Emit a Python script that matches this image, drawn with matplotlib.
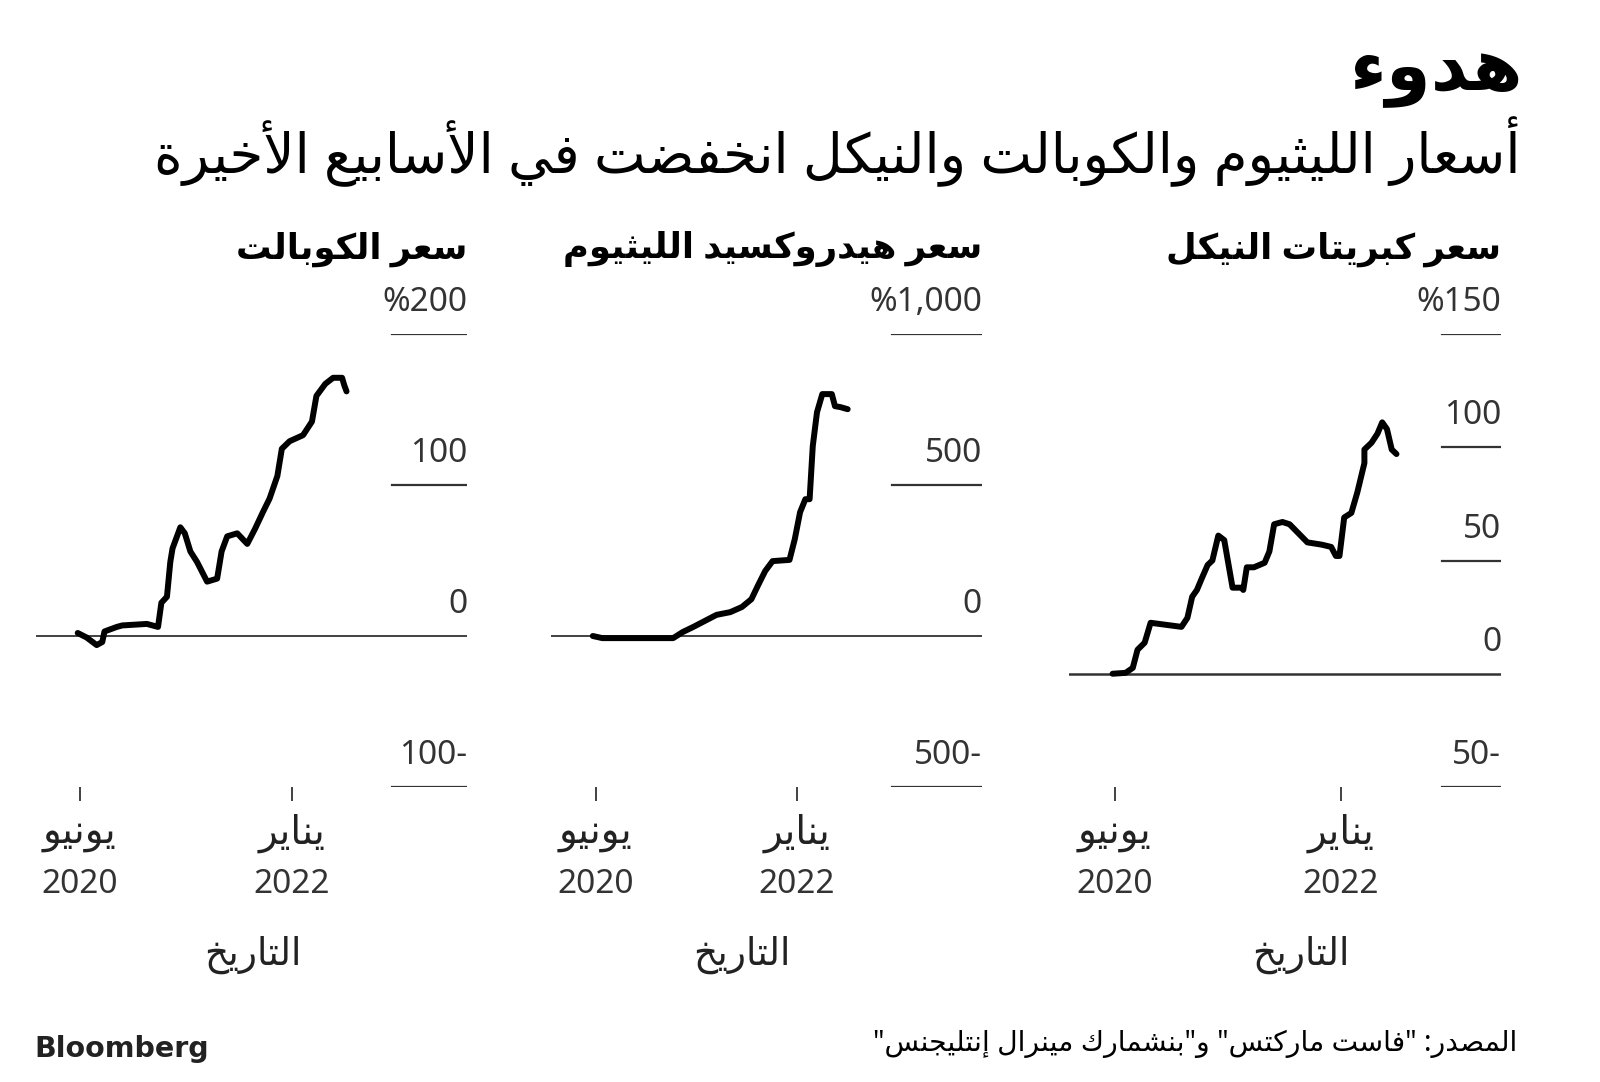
import numpy as np
import matplotlib
matplotlib.use('Agg')
import matplotlib.pyplot as plt
from matplotlib.transforms import offset_copy

plt.rcParams['font.family'] = ['Noto Sans', 'DejaVu Sans']

# x values: months since January 2020 (5 = June 2020, 24 = January 2022)
cobalt_month = [4.8, 5.6, 6.5, 7.0, 7.2, 8.3, 8.8, 11.0, 12.0, 12.3, 12.8, 13.1, 13.3,
                14.0, 14.4, 14.9, 15.5, 16.4, 17.3, 17.7, 18.2, 19.1, 20.0, 20.7, 21.4,
                22.0, 22.7, 23.1, 23.8, 25.0, 25.8, 26.2, 27.0, 27.7, 28.5, 28.7, 28.9]
cobalt_pct = [2, -1, -6, -4, 3, 6, 7, 8, 6, 22, 26, 49, 58,
              72, 68, 56, 49, 36, 38, 56, 66, 68, 61, 71, 82,
              91, 106, 124, 129, 133, 142, 159, 167, 171, 171, 166, 162]

lithium_month = [4.7, 5.6, 12.3, 13.2, 14.2, 15.3, 16.4, 17.7, 18.8, 19.7, 20.3, 21.0, 21.7,
                 23.3, 23.8, 24.3, 24.8, 25.2, 25.5, 25.9, 26.4, 27.3, 27.6, 28.1, 28.8]
lithium_pct = [0, -7, -7, 13, 30, 50, 70, 79, 96, 122, 166, 215, 248,
               252, 321, 410, 453, 453, 629, 741, 801, 801, 761, 758, 751]

nickel_month = [4.8, 5.9, 6.5, 6.9, 7.5, 8.0, 10.6, 11.1, 11.5, 11.9, 12.3, 12.8, 13.2, 13.7,
                14.2, 14.6, 14.9, 15.7, 15.8, 16.1, 16.7, 17.6, 18.0, 18.4, 19.1, 19.7, 21.2,
                22.4, 23.2, 23.6, 23.9, 24.3, 24.9, 25.4, 26.0, 26.0, 26.6, 27.1, 27.5, 27.9,
                28.3, 28.7]
nickel_pct = [0, 0.4, 2.6, 10.6, 13.7, 22.5, 20.7, 24.7, 34, 37, 42, 48, 50, 61,
              59, 47, 38, 38, 37, 47, 47, 49, 54, 66, 67, 66, 58,
              57, 56, 52, 52, 69, 71, 80, 93, 99, 102, 106, 111, 108,
              99, 97]

tick_months = [5, 24]
tick_names = ['يونيو', 'يناير']
tick_years = ['2020', '2022']

cobalt_grid = [200, 100, 0, -100]
cobalt_grid_labels = ['%200', '100', '0', '100-']
lithium_grid = [1000, 500, 0, -500]
lithium_grid_labels = ['%1,000', '500', '0', '500-']
nickel_grid = [150, 100, 50, 0, -50]
nickel_grid_labels = ['%150', '100', '50', '0', '50-']

title = 'هدوء'
subtitle = 'أسعار الليثيوم والكوبالت والنيكل انخفضت في الأسابيع الأخيرة'
panel_titles = ['سعر الكوبالت', 'سعر هيدروكسيد الليثيوم', 'سعر كبريتات النيكل']
xlabel = 'التاريخ'
source = 'المصدر: "فاست ماركتس" و"بنشمارك مينرال إنتليجنس"'


# --- minimal arabic shaping (matplotlib draws glyphs left to right, no joining) ---
AR_LETTERS = ('\u0621\u0622\u0623\u0624\u0625\u0626\u0627\u0628\u0629\u062a'
              '\u062b\u062c\u062d\u062e\u062f'
              '\u0630\u0631\u0632\u0633\u0634\u0635\u0636\u0637\u0638\u0639\u063a'
              '\u0641\u0642\u0643\u0644\u0645\u0646\u0647\u0648\u0649\u064a')
AR_NFORMS = [1, 2, 2, 2, 2, 4, 2, 4, 2, 4, 4, 4, 4, 4, 2,
             2, 2, 2, 4, 4, 4, 4, 4, 4, 4, 4,
             4, 4, 4, 4, 4, 4, 4, 2, 2, 4]
FORMS = {}
_base = 0xFE80
for _c, _n in zip(AR_LETTERS, AR_NFORMS):
    FORMS[_c] = (_base, _n)
    _base += _n
LAM_ALEF = {'\u0622': 0xFEF5, '\u0623': 0xFEF7, '\u0625': 0xFEF9, '\u0627': 0xFEFB}


def links_left(c):
    return c in FORMS and FORMS[c][1] == 4


def ar(text):
    out = []
    i = 0
    while i < len(text):
        c = text[i]
        if c not in FORMS:
            out.append(c)
            i += 1
            continue
        jp = i > 0 and links_left(text[i - 1])
        if c == '\u0644' and i + 1 < len(text) and text[i + 1] in LAM_ALEF:
            out.append(chr(LAM_ALEF[text[i + 1]] + (1 if jp else 0)))
            i += 2
            continue
        jn = links_left(c) and i + 1 < len(text) and text[i + 1] in FORMS
        base, n = FORMS[c]
        if n == 4:
            off = 3 if (jp and jn) else 1 if jp else 2 if jn else 0
        elif n == 2:
            off = 1 if jp else 0
        else:
            off = 0
        out.append(chr(base + off))
        i += 1
    return ''.join(out)[::-1]


W, H = 1600, 1082
fig = plt.figure(figsize=(16, 10.82), dpi=100)
TOP, BOTTOM = 334, 787
GREY = '#333333'


def yfrac(py):
    # figure pixel row -> axes fraction (all panels share the same vertical frame)
    return (BOTTOM - py) / (BOTTOM - TOP)


def panel(left, right, months, pct, ylim, xlim, grid, grid_labels, short_from, name, xlab_x, zero_lw):
    ax = fig.add_axes([left / W, 1 - BOTTOM / H, (right - left) / W, (BOTTOM - TOP) / H])
    ax.set_xlim(*xlim)
    ax.set_ylim(*ylim)
    for s in ax.spines.values():
        s.set_visible(False)
    ax.set_yticks([])
    ax.set_xticks(tick_months, labels=tick_years)
    ax.tick_params(axis='x', length=10, width=1.3, color=GREY, pad=48,
                   labelsize=24, labelcolor=GREY)
    xtr = ax.get_xaxis_transform()
    for m, nm in zip(tick_months, tick_names):
        ax.text(m, yfrac(833), ar(nm), transform=xtr, ha='center', va='center',
                fontsize=28, color='#222222')
    ytr = ax.get_yaxis_transform()
    lab_tr = offset_copy(ytr, fig=fig, y=23, units='dots')
    for v, t in zip(grid, grid_labels):
        if v == 0:
            ax.axhline(0, color=GREY, lw=zero_lw, zorder=1)
        else:
            ax.axhline(v, xmin=short_from, xmax=1, color=GREY, lw=1.6, zorder=1)
        ax.text(1.0, v, t, transform=lab_tr, ha='right', va='baseline',
                fontsize=24, color=GREY)
    ax.plot(months, pct, color='black', lw=4.3, solid_capstyle='round',
            solid_joinstyle='round', clip_on=False, zorder=3)
    ax.text(1.0, yfrac(249), ar(name), transform=ax.transAxes,
            ha='right', va='center', fontsize=25.5, fontweight='bold', color='black')
    ax.text(xlab_x, yfrac(955), ar(xlabel), transform=ax.transAxes,
            ha='center', va='center', fontsize=27, color='#222222')
    return ax


panel(36, 467, cobalt_month, cobalt_pct, (-100, 200), (1.06, 39.7), cobalt_grid,
      cobalt_grid_labels, 0.826, panel_titles[0], 0.503, 1.3)
panel(551, 982, lithium_month, lithium_pct, (-500, 1000), (0.75, 41.5), lithium_grid,
      lithium_grid_labels, 0.791, panel_titles[1], 0.443, 1.3)
panel(1069, 1501, nickel_month, nickel_pct, (-50, 150), (1.13, 37.5), nickel_grid,
      nickel_grid_labels, 0.863, panel_titles[2], 0.537, 1.8)

fig.text(1523 / W, 1 - 71 / H, ar(title), ha='right', va='center', fontsize=52,
         fontweight='bold', color='black')
fig.text(1521 / W, 1 - 152 / H, ar(subtitle), ha='right', va='center', fontsize=39.4,
         color='black')
fig.text(1517 / W, 1 - 1043 / H, ar(source), ha='right', va='center', fontsize=20.3,
         color='black')
fig.text(34 / W, 1 - 1049 / H, 'Bloomberg', ha='left', va='center', fontsize=20.5,
         fontweight='bold', color='#222222', family=['DejaVu Sans'])

fig.savefig('out.png', dpi=100, facecolor='white')
